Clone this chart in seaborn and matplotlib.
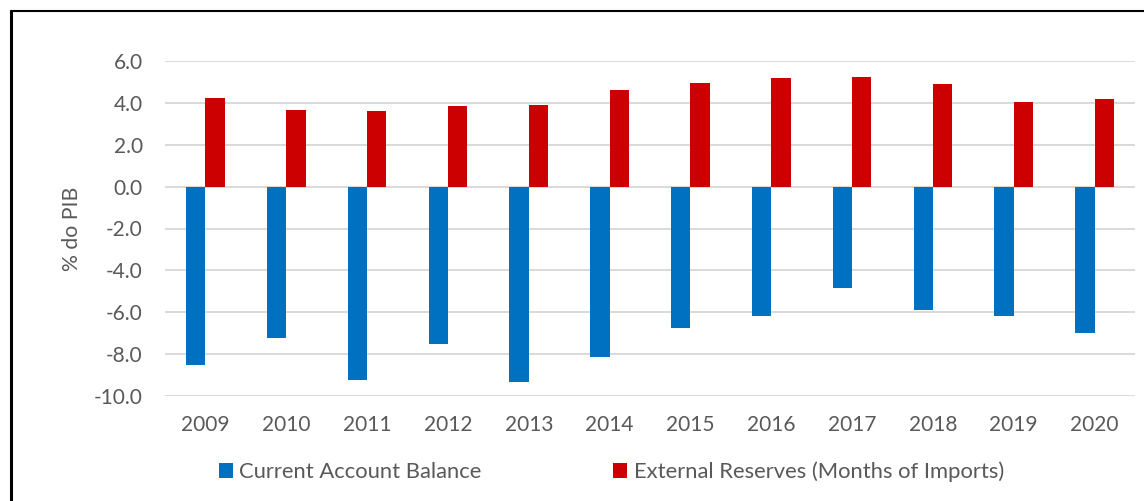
import matplotlib
matplotlib.use("Agg")
import matplotlib.pyplot as plt
import seaborn as sns
import pandas as pd
from matplotlib.patches import Patch
from matplotlib.lines import Line2D

years = ["2009", "2010", "2011", "2012", "2013", "2014", "2015", "2016", "2017", "2018", "2019", "2020"]
current_account = [-8.5, -7.25, -9.25, -7.5, -9.35, -8.15, -6.75, -6.2, -4.85, -5.9, -6.2, -7.0]
external_reserves = [4.25, 3.67, 3.6, 3.85, 3.9, 4.6, 4.95, 5.2, 5.25, 4.9, 4.05, 4.2]
series_names = ["Current Account Balance", "External Reserves (Months of Imports)"]
colors = ["#0070C0", "#CC0000"]
yticks = [6.0, 4.0, 2.0, 0.0, -2.0, -4.0, -6.0, -8.0, -10.0]
ylabel = "% do PIB"

df = pd.DataFrame({
    "year": years * 2,
    "value": current_account + external_reserves,
    "series": [series_names[0]] * len(years) + [series_names[1]] * len(years),
})

sns.set_style("white")
plt.rcParams["font.family"] = ["Lato", "DejaVu Sans"]

fig = plt.figure(figsize=(11.44, 5.01), dpi=100)
ax = fig.add_axes([165 / 1144, 1 - 396 / 501, (1135 - 165) / 1144, (396 - 61) / 501])

sns.barplot(data=df, x="year", y="value", hue="series", palette=colors,
            width=0.48, gap=0, dodge=True, ax=ax, legend=False, saturation=1,
            edgecolor="none", linewidth=0)

ax.set_ylim(-10, 6)
ax.set_xlim(-0.5, len(years) - 0.5)
ax.set_yticks(yticks)
ax.set_yticklabels([f"{v:.1f}" for v in yticks])
ax.yaxis.grid(True, color="#D9D9D9", linewidth=1.4)
ax.set_axisbelow(True)
for s in ax.spines.values():
    s.set_visible(False)
ax.tick_params(axis="both", length=0, labelsize=15, labelcolor="#595959")
ax.tick_params(axis="y", pad=16)
ax.tick_params(axis="x", pad=14)
ax.set_xlabel("")
ax.set_ylabel(ylabel, fontsize=15.3, color="#595959")
ax.yaxis.set_label_coords(-0.086, 0.5)

handles = [Patch(facecolor=c, edgecolor="none") for c in colors]
leg = fig.legend(handles, series_names, loc="center", bbox_to_anchor=(0.5345, 1 - 472 / 501),
                 ncol=2, frameon=False, fontsize=15.8, handlelength=0.62, handleheight=0.62,
                 handletextpad=0.3, columnspacing=6.0, labelcolor="#595959")

# outer chart frame (left and top edges visible)
fig.add_artist(Line2D([11 / 1144, 11 / 1144], [0, 1 - 11 / 501], transform=fig.transFigure,
                      color="black", linewidth=2.2))
fig.add_artist(Line2D([11 / 1144, 1], [1 - 11 / 501, 1 - 11 / 501], transform=fig.transFigure,
                      color="black", linewidth=1.5))

fig.savefig("out.png", dpi=100)
